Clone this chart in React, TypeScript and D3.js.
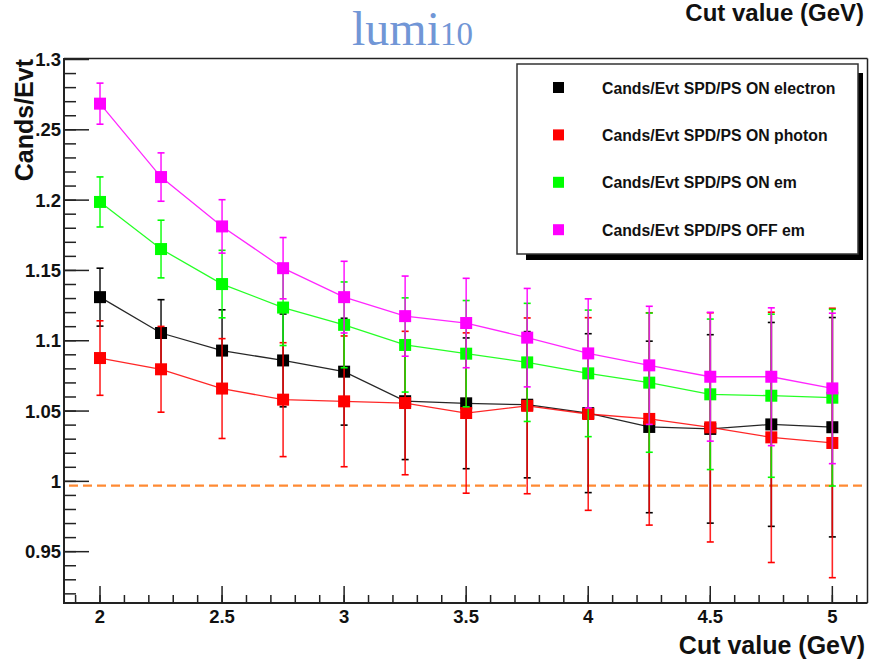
import React from 'react';
import * as d3 from 'd3';

// Cut values on the x axis (GeV)
const CUT_VALUES = [2, 2.25, 2.5, 2.75, 3, 3.25, 3.5, 3.75, 4, 4.25, 4.5, 4.75, 5];

// Candidates per event, SPD/PS ON, electron hypothesis
const ON_ELECTRON = [1.131, 1.1055, 1.093, 1.086, 1.078, 1.057, 1.0555, 1.0545, 1.0485, 1.0387, 1.0373, 1.0405, 1.0385];
const ON_ELECTRON_ERR = [0.0206, 0.0237, 0.029, 0.033, 0.038, 0.0415, 0.0465, 0.052, 0.0565, 0.061, 0.067, 0.0725, 0.078];

// SPD/PS ON, photon hypothesis
const ON_PHOTON = [1.0877, 1.0797, 1.066, 1.0581, 1.0569, 1.0557, 1.0486, 1.0537, 1.0479, 1.0444, 1.0384, 1.0313, 1.0273];
const ON_PHOTON_ERR = [0.0265, 0.0305, 0.0355, 0.0405, 0.0465, 0.051, 0.057, 0.0625, 0.0685, 0.0755, 0.0815, 0.089, 0.0958];

// SPD/PS ON, em
const ON_EM = [1.1987, 1.1652, 1.1403, 1.1236, 1.1113, 1.097, 1.0908, 1.0846, 1.0768, 1.0702, 1.0619, 1.0609, 1.0595];
const ON_EM_ERR = [0.0178, 0.0205, 0.024, 0.027, 0.0305, 0.0335, 0.0378, 0.042, 0.045, 0.0495, 0.0535, 0.058, 0.0628];

// SPD/PS OFF, em
const OFF_EM = [1.2686, 1.2164, 1.1813, 1.1516, 1.131, 1.1175, 1.1126, 1.1022, 1.091, 1.0825, 1.0744, 1.0744, 1.0661];
const OFF_EM_ERR = [0.0146, 0.0172, 0.019, 0.0218, 0.0255, 0.0285, 0.0318, 0.035, 0.0388, 0.042, 0.0458, 0.049, 0.0535];

const SERIES_NAMES = [
  'Cands/Evt SPD/PS ON electron',
  'Cands/Evt SPD/PS ON photon',
  'Cands/Evt SPD/PS ON em',
  'Cands/Evt SPD/PS OFF em',
];
const SERIES_COLORS = ['#000000', '#ff0000', '#00ff00', '#ff00ff'];

const Y_TICKS = [0.95, 1, 1.05, 1.1, 1.15, 1.2, 1.25, 1.3];
const Y_TICK_LABELS = ['0.95', '1', '1.05', '1.1', '1.15', '1.2', '.25', '1.3'];
const X_TICKS = [2, 2.5, 3, 3.5, 4, 4.5, 5];
const X_TICK_LABELS = ['2', '2.5', '3', '3.5', '4', '4.5', '5'];

const REFERENCE_LEVEL = 0.997;

const W = 869;
const H = 666;
const LEFT = 64;
const RIGHT = 867;
const TOP = 59.5;
const BOTTOM = 603;

const FONT = '"Liberation Sans", Arial, Helvetica, sans-serif';

export default function App() {
  const x = d3.scaleLinear().domain([1.8525, 5.142]).range([LEFT, RIGHT]);
  const y = d3.scaleLinear().domain([0.9135, 1.3]).range([BOTTOM, TOP]);

  const series = [
    { name: SERIES_NAMES[0], color: SERIES_COLORS[0], values: ON_ELECTRON, errors: ON_ELECTRON_ERR },
    { name: SERIES_NAMES[1], color: SERIES_COLORS[1], values: ON_PHOTON, errors: ON_PHOTON_ERR },
    { name: SERIES_NAMES[2], color: SERIES_COLORS[2], values: ON_EM, errors: ON_EM_ERR },
    { name: SERIES_NAMES[3], color: SERIES_COLORS[3], values: OFF_EM, errors: OFF_EM_ERR },
  ];

  const line = d3
    .line<[number, number]>()
    .x((d) => x(d[0]))
    .y((d) => y(d[1]));

  const yMinor = d3.range(92, 130).map((v) => v / 100);
  const xMinor = d3.range(19, 52).map((v) => v / 10);

  const markerSize = 12;
  const capHalf = 3.5;

  return (
    <svg
      width={W}
      height={H}
      style={{ position: 'absolute', left: 0, top: 0, background: '#fff' }}
      xmlns="http://www.w3.org/2000/svg"
    >
      <rect x={0} y={0} width={W} height={H} fill="#fff" />

      {/* reference level */}
      <line
        x1={LEFT}
        x2={RIGHT}
        y1={y(REFERENCE_LEVEL)}
        y2={y(REFERENCE_LEVEL)}
        stroke="#ff8a33"
        strokeWidth={2.4}
        strokeDasharray="9,5"
        strokeDashoffset={-5}
      />

      {/* graphs */}
      {series.map((s) => {
        const pts: [number, number][] = CUT_VALUES.map((c, i) => [c, s.values[i]]);
        return (
          <g key={s.name}>
            <path d={line(pts) || ''} fill="none" stroke={s.color} strokeWidth={1.3} opacity={0.85} />
            {pts.map(([c, v], i) => {
              const cx = x(c);
              const hi = y(v + s.errors[i]);
              const lo = y(v - s.errors[i]);
              return (
                <g key={i}>
                  <line x1={cx} x2={cx} y1={hi} y2={lo} stroke={s.color} strokeWidth={1.6} opacity={0.85} />
                  <line x1={cx - capHalf} x2={cx + capHalf} y1={hi} y2={hi} stroke={s.color} strokeWidth={1.6} />
                  <line x1={cx - capHalf} x2={cx + capHalf} y1={lo} y2={lo} stroke={s.color} strokeWidth={1.6} />
                  <rect
                    x={cx - markerSize / 2}
                    y={y(v) - markerSize / 2}
                    width={markerSize}
                    height={markerSize}
                    fill={s.color}
                  />
                </g>
              );
            })}
          </g>
        );
      })}

      {/* frame */}
      <line x1={LEFT} x2={RIGHT + 0.5} y1={58.5} y2={58.5} stroke="#222" strokeWidth={1.5} />
      <line x1={RIGHT + 0.5} x2={RIGHT + 0.5} y1={58.5} y2={BOTTOM} stroke="#222" strokeWidth={1.5} />
      <line x1={LEFT} x2={LEFT} y1={58} y2={BOTTOM + 1} stroke="#222" strokeWidth={2} />
      <line x1={LEFT - 1} x2={RIGHT + 0.5} y1={BOTTOM} y2={BOTTOM} stroke="#222" strokeWidth={2} />

      {/* y axis ticks */}
      {yMinor.map((v) => (
        <line key={'ym' + v} x1={LEFT} x2={LEFT + 12} y1={y(v)} y2={y(v)} stroke="#222" strokeWidth={1.5} />
      ))}
      {Y_TICKS.map((v, i) => (
        <g key={'yt' + v}>
          <line x1={LEFT} x2={LEFT + 25} y1={y(v)} y2={y(v)} stroke="#222" strokeWidth={1.5} />
          <text
            x={61}
            y={y(v) + 6.5}
            textAnchor="end"
            fontFamily={FONT}
            fontWeight="bold"
            fontSize={18.5}
            fill="#111"
          >
            {Y_TICK_LABELS[i]}
          </text>
        </g>
      ))}

      {/* x axis ticks */}
      {xMinor.map((v) => (
        <line key={'xm' + v} x1={x(v)} x2={x(v)} y1={BOTTOM} y2={BOTTOM - 8} stroke="#222" strokeWidth={1.5} />
      ))}
      {X_TICKS.map((v, i) => (
        <g key={'xt' + v}>
          <line x1={x(v)} x2={x(v)} y1={BOTTOM} y2={BOTTOM - 17} stroke="#222" strokeWidth={1.5} />
          <text
            x={x(v)}
            y={623}
            textAnchor="middle"
            fontFamily={FONT}
            fontWeight="bold"
            fontSize={18.5}
            fill="#111"
          >
            {X_TICK_LABELS[i]}
          </text>
        </g>
      ))}

      {/* axis titles */}
      <text x={865} y={654} textAnchor="end" fontFamily={FONT} fontWeight="bold" fontSize={25} fill="#111">
        Cut value (GeV)
      </text>
      <text x={864} y={21} textAnchor="end" fontFamily={FONT} fontWeight="bold" fontSize={24} fill="#111">
        Cut value (GeV)
      </text>
      <text
        transform={`translate(33, 59) rotate(-90)`}
        textAnchor="end"
        fontFamily={FONT}
        fontWeight="bold"
        fontSize={25}
        fill="#111"
      >
        Cands/Evt
      </text>

      {/* run label */}
      <text x={473} y={45} textAnchor="end" fontFamily='"Liberation Serif", "DejaVu Serif", serif' fontSize={48} fill="#7196d6">
        lumi<tspan fontSize={33}>10</tspan>
      </text>

      {/* legend */}
      <rect x={526} y={73} width={337} height={187} fill="#000" />
      <rect x={517} y={64} width={341} height={190} fill="#fff" stroke="#333" strokeWidth={1.5} />
      {series.map((s, i) => {
        const cy = 87.5 + i * 47.4;
        return (
          <g key={'lg' + i}>
            <rect x={553} y={cy - 5.5} width={11} height={11} fill={s.color} />
            <text x={602} y={cy + 6} fontFamily={FONT} fontWeight="bold" fontSize={15.8} fill="#111">
              {s.name}
            </text>
          </g>
        );
      })}
    </svg>
  );
}
